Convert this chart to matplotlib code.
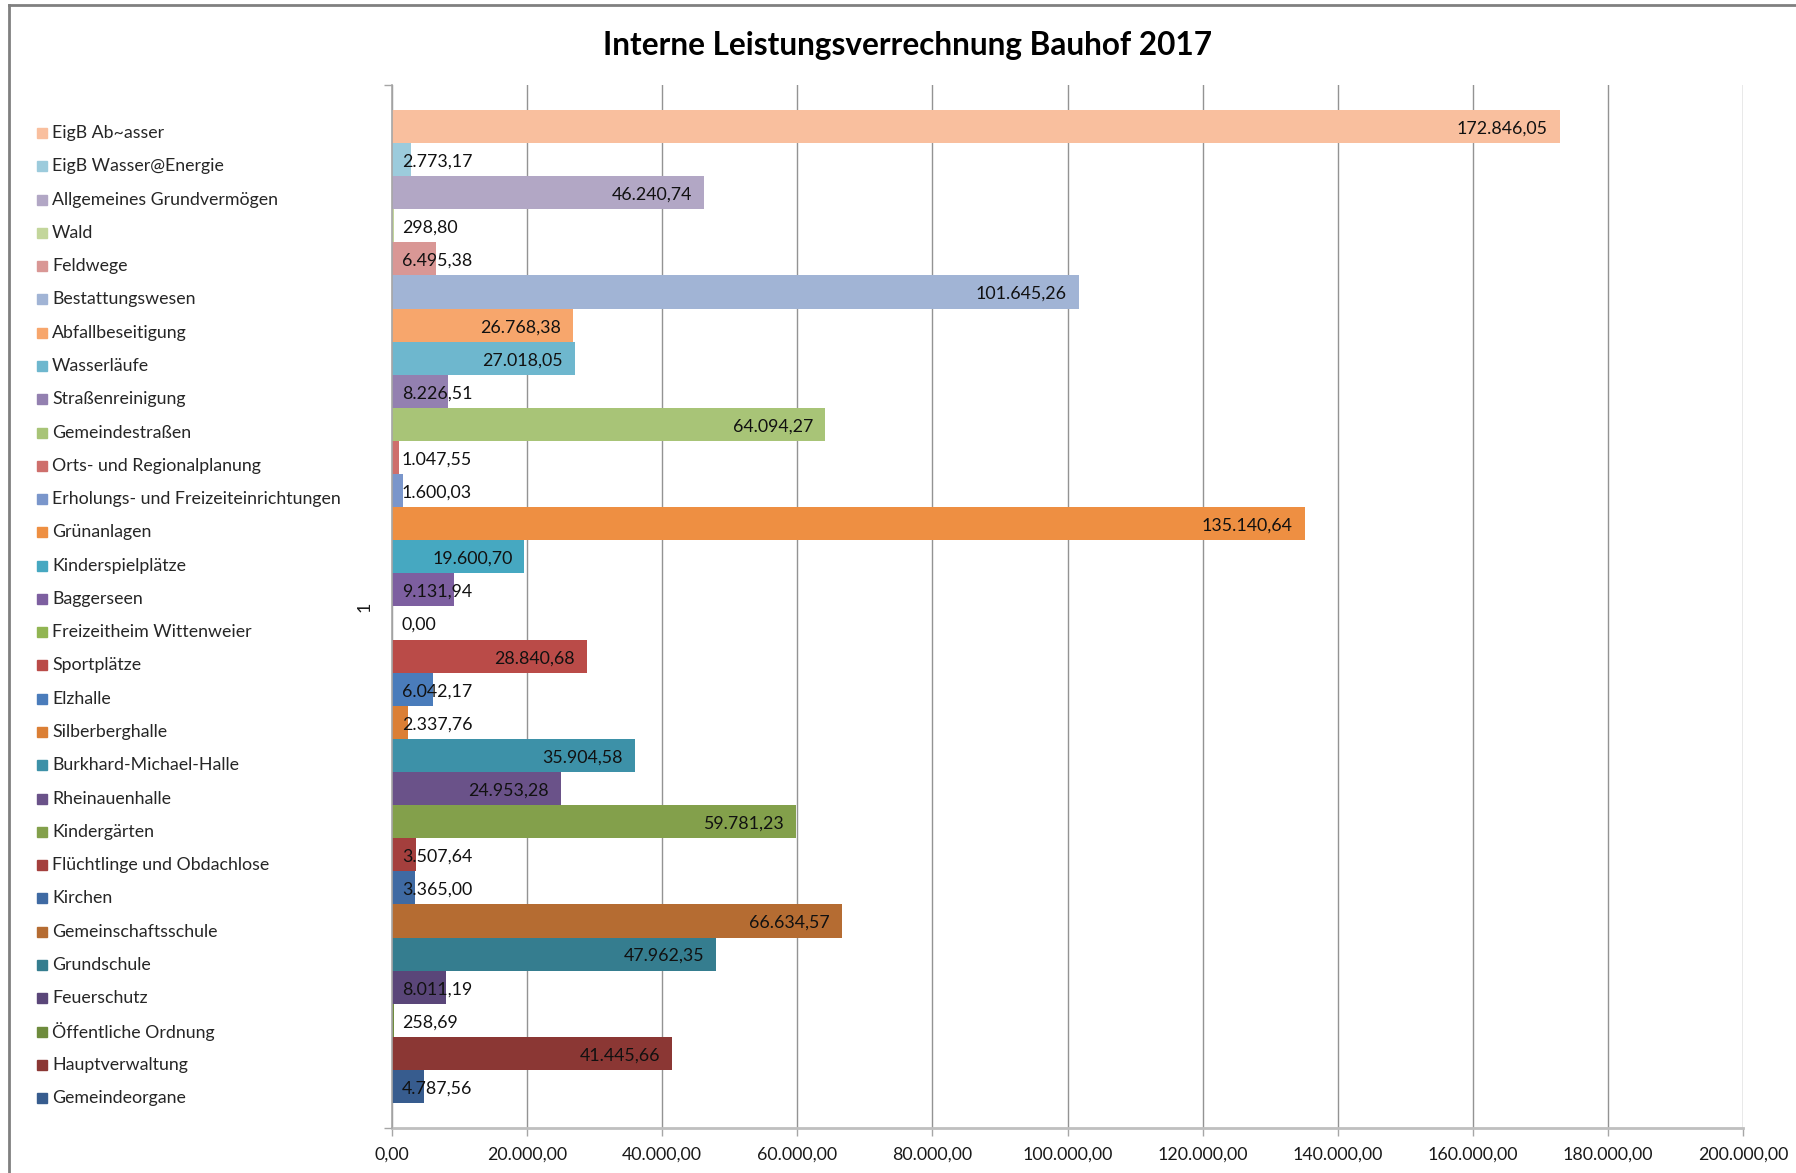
import matplotlib
matplotlib.use("Agg")
import matplotlib.pyplot as plt
from matplotlib.ticker import FuncFormatter, FixedLocator

plt.rcParams['font.family'] = ['Lato', 'DejaVu Sans']

categories = [
    "EigB Ab~asser", "EigB Wasser@Energie", "Allgemeines Grundvermögen", "Wald",
    "Feldwege", "Bestattungswesen", "Abfallbeseitigung", "Wasserläufe",
    "Straßenreinigung", "Gemeindestraßen", "Orts- und Regionalplanung",
    "Erholungs- und Freizeiteinrichtungen", "Grünanlagen", "Kinderspielplätze",
    "Baggerseen", "Freizeitheim Wittenweier", "Sportplätze", "Elzhalle",
    "Silberberghalle", "Burkhard-Michael-Halle", "Rheinauenhalle", "Kindergärten",
    "Flüchtlinge und Obdachlose", "Kirchen", "Gemeinschaftsschule", "Grundschule",
    "Feuerschutz", "Öffentliche Ordnung", "Hauptverwaltung", "Gemeindeorgane",
]
values = [
    172846.05, 2773.17, 46240.74, 298.80, 6495.38, 101645.26, 26768.38, 27018.05,
    8226.51, 64094.27, 1047.55, 1600.03, 135140.64, 19600.70, 9131.94, 0.00,
    28840.68, 6042.17, 2337.76, 35904.58, 24953.28, 59781.23, 3507.64, 3365.00,
    66634.57, 47962.35, 8011.19, 258.69, 41445.66, 4787.56,
]
colors = [
    "#F9BF9E", "#9CCBDC", "#B2A7C5", "#C3D69B", "#D99795", "#A1B4D5", "#F7A66C", "#6EB7CE",
    "#9380B0", "#A8C477", "#CE6F6C", "#7A96CB", "#EE8F42", "#46A8C1", "#7D5FA0", "#91B552",
    "#BA4B48", "#4A7CBB", "#DB7F35", "#3D91A8", "#6A5289", "#83A04B", "#A43F3D", "#3F6AA3",
    "#B56C32", "#357D8F", "#5A4679", "#6E8B3D", "#8B3734", "#375C8E",
]
x_ticks = [0, 20000, 40000, 60000, 80000, 100000, 120000, 140000, 160000, 180000, 200000]
title = "Interne Leistungsverrechnung Bauhof 2017"


def de_format(v, pos=None):
    s = f"{v:,.2f}"
    return s.replace(",", "X").replace(".", ",").replace("X", ".")


W, H = 1796, 1173
fig = plt.figure(figsize=(W / 100, H / 100), dpi=100)
ax = fig.add_axes([392 / W, 1 - 1128 / H, (1743 - 392) / W, (1128 - 85) / H])

# frame of the chart object
fig.add_artist(plt.Line2D([9 / W, 1], [1 - 5 / H, 1 - 5 / H], color="#808080", lw=2))
fig.add_artist(plt.Line2D([9 / W, 9 / W], [0, 1 - 5 / H], color="#808080", lw=2))

n = len(categories)
pos = list(range(n))
ax.barh(pos, values, height=1.0, color=colors, zorder=3)

ax.set_xlim(0, 200000)
ax.set_ylim(n - 0.5 + 0.755, -0.5 - 0.755)

ax.xaxis.set_major_locator(FixedLocator(x_ticks))
ax.xaxis.set_major_formatter(FuncFormatter(de_format))
ax.grid(axis="x", color="#939393", lw=1.0, zorder=0)
ax.tick_params(axis="x", length=6, width=1, color="#A6A6A6", pad=7.5,
               labelsize=12.8, labelcolor="#1A1A1A")

ax.set_yticks([(n - 1) / 2])
ax.set_yticklabels(["1"], rotation=90, va="center", fontsize=12.8, color="#1A1A1A")
ax.tick_params(axis="y", length=0, pad=14)
ax.set_yticks([n - 0.5 + 0.755, -0.5 - 0.755], minor=True)
ax.tick_params(axis="y", which="minor", length=6, width=1, color="#A6A6A6")

for side in ["top", "right"]:
    ax.spines[side].set_visible(False)
ax.spines["left"].set_color("#A6A6A6")
ax.spines["left"].set_linewidth(1.2)
ax.spines["bottom"].set_color("#BFBFBF")
ax.spines["bottom"].set_linewidth(2)
ax.spines["left"].set_zorder(4)

# data labels (inside end, pushed to the base when the bar is too short)
fig.canvas.draw()
renderer = fig.canvas.get_renderer()
x0_px = ax.transData.transform((0, 0))[0]
for i, v in enumerate(values):
    t = ax.annotate(de_format(v), xy=(v, i), xytext=(-12, -2), textcoords="offset pixels",
                    ha="right", va="center", fontsize=12.8, color="#111111", zorder=5)
    bb = t.get_window_extent(renderer)
    if bb.x0 < x0_px + 10:
        t.xy = (0, i)
        t.set_position((10, -2))
        t.set_ha("left")

# legend on the left, one row per series
row_top, row_step = 133, 33.28
for i, (name, c) in enumerate(zip(categories, colors)):
    y = 1 - (row_top + i * row_step) / H
    fig.add_artist(plt.Line2D([42 / W], [y], marker="s", markersize=7.2,
                              color=c, linestyle="none"))
    fig.text(52 / W, y, name, ha="left", va="center", fontsize=12.8, color="#262626")

fig.text(908 / W, 1 - 45 / H, title, ha="center", va="center",
         fontsize=22.7, fontweight="bold", color="#000000")

fig.savefig("out.png", dpi=100)
